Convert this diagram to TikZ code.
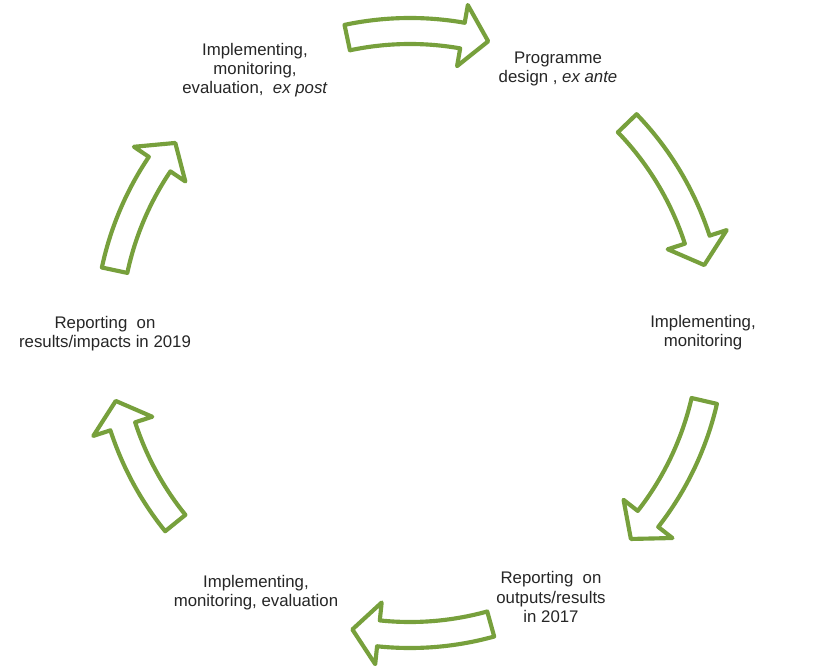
\documentclass[tikz,border=0pt]{standalone}
\usepackage{fontspec}
\setmainfont{Liberation Sans}
\definecolor{arrowgreen}{HTML}{77A03C}
\definecolor{txtgray}{HTML}{262626}
\newcommand\blockarrow[3]{% tail angle, head base angle, tip angle
  \draw[barrow] (#1:315) arc[start angle=#1, end angle=#2, radius=315]
    -- (#2:333) -- (#3:302) -- (#2:271) -- (#2:289)
    arc[start angle=#2, end angle=#1, radius=289] -- cycle;}
\begin{document}
\begin{tikzpicture}[x=0.75pt,y=0.75pt,
  lbl/.style={font=\fontsize{12.6}{14.3}\selectfont, text=txtgray, align=center, inner sep=0pt},
  barrow/.style={draw=arrowgreen, line width=3.1pt, fill=white, line join=round}]
\useasboundingbox (0,0) rectangle (838,665);
\fill[white] (0,0) rectangle (838,665);
\begin{scope}[shift={(410,332)}]
  \blockarrow{102}{80}{75}
  \blockarrow{44}{18}{13}
  \blockarrow{-13}{-38}{-43}
  \blockarrow{-74.5}{-96}{-101}
  \blockarrow{-141}{-162}{-167}
  \blockarrow{168}{146}{141}
\end{scope}
\node[lbl] (t1) at (255,595) {Implementing,\\monitoring,\\evaluation,\ \ \textit{ex post}};
\node[lbl] (t2) at (558,596) {Programme\\design\ , \textit{ex ante}};
\node[lbl] (t3) at (703,332) {Implementing,\\monitoring};
\node[lbl] (t4) at (551,68) {Reporting\ \ on\\outputs/results\\in 2017};
\node[lbl] (t5) at (256,72) {Implementing,\\monitoring, evaluation};
\node[lbl] (t6) at (105,331) {Reporting\ \ on\\results/impacts in 2019};
\end{tikzpicture}
\end{document}
